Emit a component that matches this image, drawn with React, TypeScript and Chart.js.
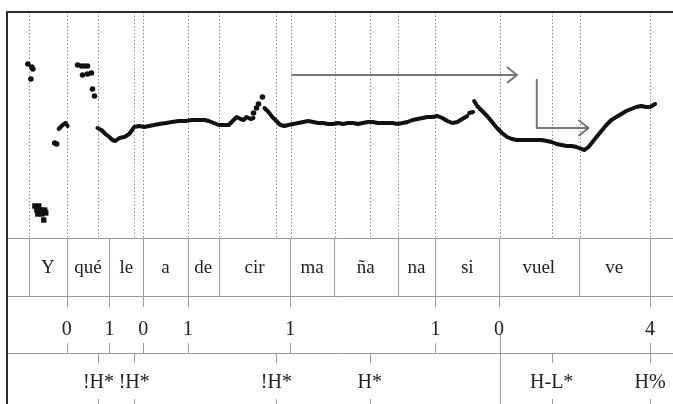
import React, { useEffect, useRef } from "react";
import { Chart, registerables } from "chart.js";

Chart.register(...registerables);

// ---- Pitch track (time in ms, F0 in Hz) ----
const segA_t = [360, 376, 392, 408, 420, 432, 448, 468, 488, 508, 528, 548, 568, 588, 608, 636, 660, 688, 716, 740, 768, 792, 808, 828, 848, 868, 888, 904, 920, 936, 948, 960, 976, 988];
const segA_f = [268, 264, 256, 250, 244, 242, 248, 250, 256, 270, 272, 270, 272, 274, 276, 278, 280, 282, 282, 284, 284, 284, 282, 278, 274, 274, 274, 282, 290, 286, 284, 290, 286, 288];
const segB_t = [1032, 1048, 1064, 1080, 1096, 1112, 1128, 1148, 1168, 1188, 1208, 1228, 1248, 1268, 1288, 1308, 1328, 1348, 1368, 1388, 1408, 1428, 1448, 1468, 1488, 1508, 1528, 1548, 1568, 1588, 1608, 1628, 1648, 1668, 1688, 1708, 1728, 1748, 1768, 1788, 1808, 1828, 1848];
const segB_f = [308, 300, 290, 282, 274, 272, 274, 276, 278, 280, 282, 280, 278, 278, 276, 276, 278, 276, 278, 278, 276, 278, 280, 280, 278, 278, 278, 278, 276, 278, 280, 284, 286, 288, 290, 290, 292, 288, 282, 278, 280, 286, 292];
const segC_t = [1876, 1888, 1908, 1928, 1948, 1968, 1988, 2008, 2028, 2048, 2068, 2088, 2108, 2128, 2148, 2168, 2188, 2208, 2228, 2248, 2268, 2288, 2308, 2320, 2336, 2352, 2368, 2388, 2408, 2428, 2448, 2468, 2488, 2508, 2528, 2548, 2568, 2584, 2604];
const segC_f = [322, 312, 302, 292, 280, 268, 258, 250, 246, 244, 244, 244, 244, 244, 244, 242, 240, 236, 234, 232, 232, 230, 226, 224, 230, 240, 250, 262, 274, 284, 290, 296, 302, 306, 310, 312, 310, 310, 316];
const stroke1_t = [204, 220, 232, 240];
const stroke1_f = [266, 274, 278, 272];
const dash_t = [1856, 1872];
const dash_f = [298, 300];

const dots_t = [80, 96, 100, 92, 188, 196, 280, 296, 308, 320, 300, 320, 336, 340, 348, 988, 1000, 1008, 1024];
const dots_f = [396, 390, 386, 366, 238, 236, 394, 392, 392, 392, 374, 376, 378, 346, 332, 298, 308, 316, 330];

const blob_t = [108, 124, 116, 132, 148, 120, 136, 152, 144];
const blob_f = [112, 112, 104, 104, 104, 96, 96, 98, 84];

// ---- Arrows (ms, Hz) ----
const arrow1_t = [1140, 2048];
const arrow1_f = [374, 374];
const arrow2_t = [2128, 2128, 2336];
const arrow2_f = [366, 268, 268];

// ---- Axes ranges ----
const timeMin = 0;
const timeMax = 2660;
const hzMin = 48;
const hzMax = 500;

// ---- Tiers ----
const dottedTimes = [84, 236, 364, 508, 544, 724, 848, 1080, 1140, 1316, 1456, 1568, 1720, 1980, 2188, 2300, 2584];
const sylBounds = [84, 236, 408, 544, 724, 848, 1136, 1312, 1568, 1720, 1976, 2296, 2584];
const syllables = ["Y", "qué", "le", "a", "de", "cir", "ma", "ña", "na", "si", "vuel", "ve"];
const breakTimes = [236, 408, 544, 724, 1136, 1720, 1976, 2584];
const breakLabels = ["0", "1", "0", "1", "1", "1", "0", "4"];
const toneTimes = [364, 508, 1080, 1456, 2188, 2584];
const toneLabels = ["!H*", "!H*", "!H*", "H*", "H-L*", "H%"];
const phraseBoundaryTime = 1980;

function pts(ts: number[], fs: number[]) {
  return ts.map((t, i) => ({ x: t, y: fs[i] }));
}

function joinSegments(segs: { x: number; y: number | null }[][]) {
  const out: { x: number; y: number | null }[] = [];
  segs.forEach((s, i) => {
    if (i > 0) out.push({ x: s[0].x - 1, y: null });
    out.push(...s);
  });
  return out;
}

const SERIF = '"Liberation Serif", "DejaVu Serif", serif';

const tiersPlugin = {
  id: "tiers",
  beforeDatasetsDraw(chart: any) {
    const { ctx, chartArea: a, scales } = chart;
    const x = scales.x;
    ctx.save();
    ctx.strokeStyle = "#8c8c8c";
    ctx.lineWidth = 1;
    ctx.setLineDash([1.5, 2]);
    for (const t of dottedTimes) {
      const px = Math.round(x.getPixelForValue(t)) + 0.5;
      ctx.beginPath();
      ctx.moveTo(px, a.top);
      ctx.lineTo(px, a.bottom);
      ctx.stroke();
    }
    ctx.restore();
  },
  afterDatasetsDraw(chart: any) {
    const { ctx, chartArea: a, scales, width, height } = chart;
    const x = scales.x;
    const y = scales.y;
    const t1 = a.bottom;
    const t2 = a.bottom + 58;
    const t3 = a.bottom + 115;
    const bottom = height;
    const line = (x0: number, y0: number, x1: number, y1: number) => {
      ctx.beginPath();
      ctx.moveTo(x0, y0);
      ctx.lineTo(x1, y1);
      ctx.stroke();
    };
    const X = (t: number) => Math.round(x.getPixelForValue(t)) + 0.5;
    ctx.save();
    // tier separators
    ctx.strokeStyle = "#9a9a9a";
    ctx.lineWidth = 1;
    [t1, t2, t3].forEach((yy) => line(a.left, Math.round(yy) + 0.5, width, Math.round(yy) + 0.5));
    // syllable boundaries
    sylBounds.forEach((t) => line(X(t), t1, X(t), t2));
    // break index ticks
    breakTimes.forEach((t) => {
      line(X(t), t2, X(t), t2 + 11);
      if (t === 1976) line(X(phraseBoundaryTime), t2 + 38, X(phraseBoundaryTime), bottom);
      else line(X(t), t3 - 10, X(t), t3);
    });
    // tone ticks
    toneTimes.forEach((t) => {
      line(X(t), t3, X(t), t3 + 10);
      line(X(t), bottom - 5, X(t), bottom);
    });
    // text
    ctx.fillStyle = "#222";
    ctx.textAlign = "center";
    ctx.textBaseline = "alphabetic";
    ctx.font = `19px ${SERIF}`;
    syllables.forEach((s, i) => {
      const cx = (x.getPixelForValue(sylBounds[i]) + x.getPixelForValue(sylBounds[i + 1])) / 2;
      ctx.fillText(s, cx, t1 + 35);
    });
    ctx.font = `20px ${SERIF}`;
    breakLabels.forEach((s, i) => ctx.fillText(s, x.getPixelForValue(breakTimes[i]), t2 + 39));
    toneLabels.forEach((s, i) => ctx.fillText(s, x.getPixelForValue(toneTimes[i]), t3 + 35));

    // arrowheads
    ctx.strokeStyle = "#777";
    ctx.lineWidth = 2;
    const head = (tt: number, ff: number) => {
      const px = x.getPixelForValue(tt);
      const py = y.getPixelForValue(ff);
      ctx.beginPath();
      ctx.moveTo(px - 10, py - 8);
      ctx.lineTo(px, py);
      ctx.lineTo(px - 10, py + 8);
      ctx.stroke();
    };
    head(arrow1_t[arrow1_t.length - 1], arrow1_f[arrow1_f.length - 1]);
    head(arrow2_t[arrow2_t.length - 1], arrow2_f[arrow2_f.length - 1]);

    // frame
    ctx.strokeStyle = "#2a2a2a";
    ctx.lineWidth = 2;
    line(a.left, a.top, width, a.top);
    line(a.left - 1, a.top - 1, a.left - 1, bottom);
    ctx.restore();
  },
};

export default function App() {
  const ref = useRef<HTMLCanvasElement | null>(null);
  useEffect(() => {
    if (!ref.current) return;
    const ink = "#111";
    const chart = new Chart(ref.current, {
      type: "scatter",
      data: {
        datasets: [
          {
            data: joinSegments([pts(segA_t, segA_f), pts(segB_t, segB_f), pts(segC_t, segC_f), pts(stroke1_t, stroke1_f), pts(dash_t, dash_f)]) as any,
            showLine: true,
            spanGaps: false,
            borderColor: ink,
            borderWidth: 4,
            pointRadius: 0,
            tension: 0,
            borderJoinStyle: "round",
            borderCapStyle: "round",
          } as any,
          {
            data: pts(dots_t, dots_f),
            pointRadius: 2.8,
            backgroundColor: ink,
            borderWidth: 0,
          },
          {
            data: pts(blob_t, blob_f),
            pointRadius: 3.8,
            pointStyle: "rect",
            backgroundColor: ink,
            borderWidth: 0,
          },
          {
            data: pts(arrow1_t, arrow1_f),
            showLine: true,
            borderColor: "#777",
            borderWidth: 2,
            pointRadius: 0,
          },
          {
            data: pts(arrow2_t, arrow2_f),
            showLine: true,
            borderColor: "#777",
            borderWidth: 2,
            pointRadius: 0,
          },
        ],
      },
      options: {
        animation: false,
        responsive: false,
        devicePixelRatio: 1,
        layout: { padding: { left: 8, top: 12, right: 0, bottom: 166 } },
        plugins: { legend: { display: false }, tooltip: { enabled: false } },
        scales: {
          x: { type: "linear", min: timeMin, max: timeMax, display: false },
          y: { type: "linear", min: hzMin, max: hzMax, display: false },
        },
      },
      plugins: [tiersPlugin],
    });
    return () => chart.destroy();
  }, []);
  return (
    <div style={{ position: "absolute", left: 0, top: 0, width: 673, height: 404, background: "#fff" }}>
      <canvas ref={ref} width={673} height={404} />
    </div>
  );
}
